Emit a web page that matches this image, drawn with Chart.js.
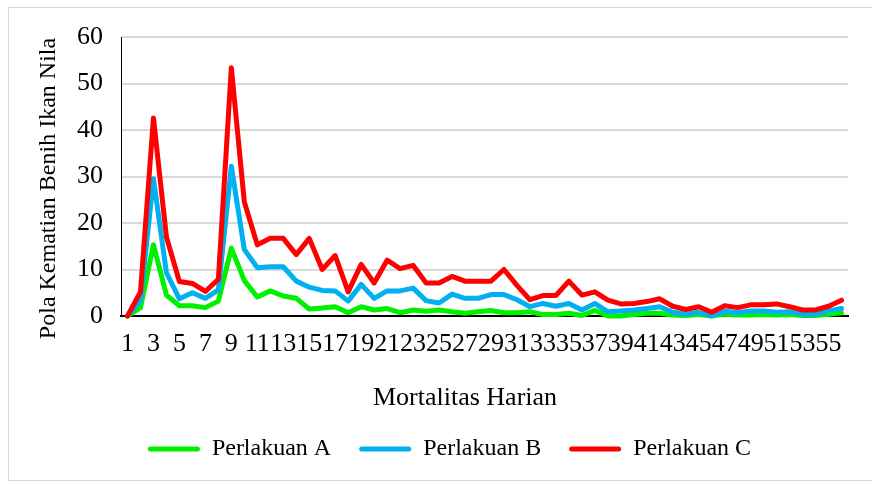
<!DOCTYPE html>
<html>
<head>
<meta charset="utf-8">
<script src="https://cdn.jsdelivr.net/npm/chart.js@4.4.1/dist/chart.umd.min.js"></script>
<style>
  body { margin: 0; background: #fff; }
  #wrap { position: relative; width: 872px; height: 482px; overflow: hidden; }
  #frame { position: absolute; left: 8px; top: 7px; width: 900px; height: 472px; border: 1px solid #d9d9d9; }
  #box { position: absolute; left: 0; top: 0; width: 872px; height: 482px; }
</style>
</head>
<body>
<div id="wrap">
  <div id="frame"></div>
  <div id="box"><canvas id="myChart"></canvas></div>
</div>
<script>
// hari ke-1 .. ke-56
const days = [1, 2, 3, 4, 5, 6, 7, 8, 9, 10, 11, 12, 13, 14, 15, 16, 17, 18, 19, 20,
  21, 22, 23, 24, 25, 26, 27, 28, 29, 30, 31, 32, 33, 34, 35, 36, 37, 38, 39, 40,
  41, 42, 43, 44, 45, 46, 47, 48, 49, 50, 51, 52, 53, 54, 55, 56];

const perlakuanA = [0, 1.8, 15.3, 4.5, 2.2, 2.2, 1.8, 3.2, 14.6, 7.6,
  4.1, 5.4, 4.3, 3.8, 1.5, 1.7, 2.0, 0.7, 2.0, 1.3,
  1.6, 0.7, 1.3, 1.0, 1.3, 0.9, 0.6, 0.9, 1.2, 0.7,
  0.7, 0.9, 0.3, 0.3, 0.6, 0.1, 1.2, 0, 0, 0.3,
  0.6, 0.6, 0.2, 0.1, 0.3, 0, 0.4, 0.2, 0.2, 0.3,
  0.2, 0.3, 0.1, 0.1, 0.4, 0.7];

const perlakuanB = [0, 3.3, 29.5, 9.3, 3.7, 5.0, 3.8, 5.6, 32.2, 14.3,
  10.4, 10.6, 10.6, 7.5, 6.2, 5.5, 5.4, 3.2, 6.8, 3.8,
  5.4, 5.4, 6.0, 3.3, 2.8, 4.7, 3.8, 3.8, 4.6, 4.6,
  3.5, 2.0, 2.7, 2.1, 2.7, 1.3, 2.7, 0.9, 1.1, 1.3,
  1.6, 2.0, 0.8, 0.4, 0.8, 0, 1.0, 0.7, 1.1, 1.1,
  0.8, 0.9, 0.4, 0.4, 1.1, 1.6];

const perlakuanC = [0, 5.2, 42.6, 17.0, 7.4, 7.0, 5.3, 7.9, 53.4, 24.5,
  15.3, 16.7, 16.7, 13.2, 16.7, 10.0, 13.0, 5.2, 11.1, 7.1,
  12.0, 10.2, 10.9, 7.1, 7.1, 8.5, 7.5, 7.5, 7.5, 10.0,
  6.6, 3.5, 4.4, 4.4, 7.5, 4.5, 5.2, 3.4, 2.6, 2.7,
  3.1, 3.7, 2.1, 1.4, 2.0, 0.8, 2.2, 1.8, 2.4, 2.4,
  2.6, 2.0, 1.3, 1.3, 2.1, 3.4];

const seriesNames = ['Perlakuan A', 'Perlakuan B', 'Perlakuan C'];
const seriesColors = ['#00f000', '#00b0f0', '#ff0000'];

const serif = 'Liberation Serif, "Times New Roman", serif';

function makeSet(i, data) {
  return {
    label: seriesNames[i],
    data: data,
    borderColor: seriesColors[i],
    backgroundColor: seriesColors[i],
    borderWidth: 5,
    pointRadius: 0,
    tension: 0,
    borderJoinStyle: 'round',
    borderCapStyle: 'round',
    clip: false,
    order: 3 - i  // C drawn on top
  };
}

const ctx = document.getElementById('myChart').getContext('2d');
const myChart = new Chart(ctx, {
  type: 'line',
  data: {
    labels: days,
    datasets: [makeSet(0, perlakuanA), makeSet(1, perlakuanB), makeSet(2, perlakuanC)]
  },
  options: {
    responsive: true,
    maintainAspectRatio: false,
    animation: false,
    layout: { padding: { left: 51, right: 24, top: 37, bottom: 11 } },
    plugins: {
      tooltip: { enabled: false },
      legend: {
        position: 'bottom',
        labels: {
          boxWidth: 52,
          boxHeight: 5,
          padding: 28,
          color: '#000',
          useBorderRadius: true,
          borderRadius: 2.5,
          font: { family: serif, size: 24 },
          sort: (a, b) => a.datasetIndex - b.datasetIndex,
          generateLabels: function(chart) {
            const items = Chart.defaults.plugins.legend.labels.generateLabels(chart);
            items.forEach(it => { it.lineWidth = 0; });
            return items;
          }
        }
      }
    },
    scales: {
      x: {
        offset: true,
        grid: { display: false, drawTicks: false },
        border: { display: true, color: '#000', width: 2 },
        ticks: {
          autoSkip: false,
          maxRotation: 0,
          padding: 13,
          color: '#000',
          font: { family: serif, size: 26 },
          callback: function(value, index) {
            return index % 2 === 0 ? days[index] : '';
          }
        },
        title: {
          display: true,
          text: 'Mortalitas Harian      ',
          color: '#000',
          font: { family: serif, size: 26 },
          padding: { top: 0, bottom: -5 }
        },
        afterFit: function(scale) { scale.height = 93; }
      },
      y: {
        min: 0,
        max: 60,
        ticks: {
          stepSize: 10,
          padding: 18,
          color: '#000',
          font: { family: serif, size: 26 }
        },
        grid: { color: '#d9d9d9', lineWidth: 2, drawTicks: false },
        border: { display: true, color: '#000', width: 1 },
        title: {
          display: true,
          text: 'Pola Kematian Benih Ikan Nila    ',
          color: '#000',
          font: { family: serif, size: 24 },
          padding: { top: -17, bottom: 0 }
        },
        afterFit: function(scale) { scale.width = 70; }
      }
    }
  }
});
console.log('chart ready', myChart.chartArea);
</script>
</body>
</html>
